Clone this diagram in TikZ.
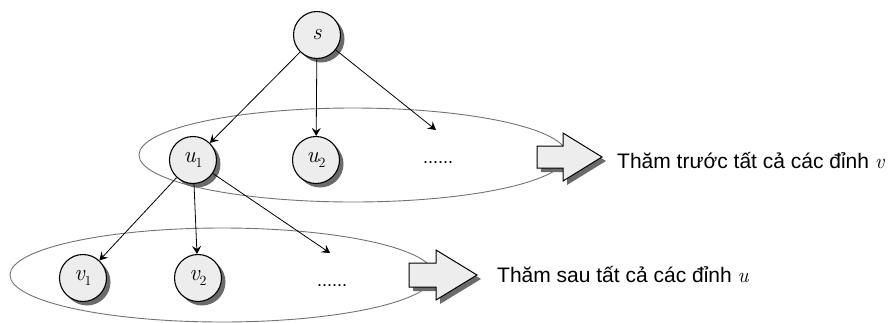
\documentclass[tikz,border=0pt]{standalone}
\usepackage{fontspec}
\setmainfont{Liberation Sans}
\newfontfamily\lmrfont{Latin Modern Roman}
\newcommand\vname[1]{{\lmrfont\itshape #1}}
\newcommand\vsub[2]{{\lmrfont\itshape #1}\raisebox{-0.25em}{\lmrfont\fontsize{14}{14}\selectfont #2}}
\usetikzlibrary{arrows.meta,shadows}
\begin{document}
\begin{tikzpicture}[x=1pt,y=-1pt,
  vert/.style={circle,draw=black,line width=1.1pt,fill=black!7,minimum size=47pt,inner sep=0pt,
    font=\fontsize{23}{26}\selectfont,
    drop shadow={shadow xshift=4pt,shadow yshift=-4pt,fill=black!58,opacity=1}},
  edge/.style={draw=black,line width=0.8pt,-{Stealth[length=8pt,width=9pt,inset=3pt]}},
  group/.style={draw=black!55,line width=0.9pt},
  dots/.style={anchor=base,font=\fontsize{18}{20}\selectfont,inner sep=0pt},
  caption/.style={anchor=base west,inner sep=0pt,font=\fontsize{21}{25}\selectfont},
  blockarrow/.style={draw=black,line width=1pt,fill=black!7,line join=miter},
  blockshadow/.style={fill=black!58}]
\useasboundingbox (0,0) rectangle (892,322);

% groups
\draw[group] (353,155) ellipse [x radius=214pt, y radius=47pt];
\draw[group] (222,275) ellipse [x radius=212pt, y radius=47pt];

% vertices
\node[vert] (s)  at (317,35)  {\vname{s}};
\node[vert] (u1) at (193,160) {\vsub{u}{1}};
\node[vert] (u2) at (316,160) {\vsub{u}{2}};
\node[vert] (v1) at (83,278)  {\vsub{v}{1}};
\node[vert] (v2) at (198,278) {\vsub{v}{2}};
\node[dots] (d1) at (438,163) {......};
\node[dots] (d2) at (332,286) {......};
\coordinate (e1) at (436,130);
\coordinate (e2) at (330,253);

% edges
\draw[edge] (s) -- (u1);
\draw[edge] (s) -- (u2);
\draw[edge] (s) -- (e1);
\draw[edge] (u1) -- (v1);
\draw[edge] (u1) -- (v2);
\draw[edge] (u1) -- (e2);

% block arrows
\fill[blockshadow] (541,150) -- (567,150) -- (567,137) -- (606,161) -- (567,185) -- (567,172) -- (541,172) -- cycle;
\draw[blockarrow] (537,146) -- (563,146) -- (563,133) -- (602,157) -- (563,181) -- (563,168) -- (537,168) -- cycle;
\fill[blockshadow] (413,267) -- (440,267) -- (440,254) -- (481,279) -- (440,304) -- (440,291) -- (413,291) -- cycle;
\draw[blockarrow] (409,263) -- (436,263) -- (436,250) -- (477,275) -- (436,300) -- (436,287) -- (409,287) -- cycle;

% captions
\node[caption] (t1) at (617,168) {Thăm trước tất cả các đỉnh \vname{v}};
\node[caption] (t2) at (497,282) {Thăm sau tất cả các đỉnh \vname{u}};
\end{tikzpicture}
\end{document}
